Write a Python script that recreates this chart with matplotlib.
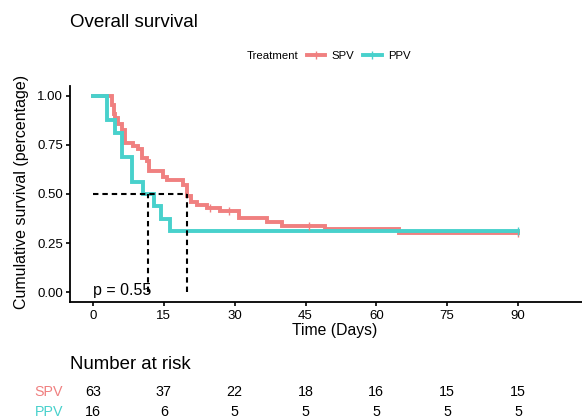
import matplotlib
matplotlib.use("Agg")
import matplotlib.pyplot as plt
import matplotlib.transforms as mtransforms
from matplotlib.lines import Line2D
import numpy as np

plt.rcParams['font.family'] = ['Liberation Sans', 'DejaVu Sans']

# ---- data ----
groups = ["SPV", "PPV"]
colors = ["#F08080", "#48D1CC"]

spv_times = [0, 4.0, 4.4, 4.7, 5.4, 6.1, 6.8, 8.5, 9.6, 10.3, 11.4, 11.9, 14.9, 15.6,
             19.1, 19.9, 20.7, 22.0, 24.1, 26.9, 31.0, 36.9, 40.0, 49.2, 64.7, 90]
spv_surv = [1.0, 0.952, 0.905, 0.889, 0.857, 0.825, 0.762, 0.746, 0.730, 0.683, 0.667,
            0.619, 0.587, 0.571, 0.548, 0.492, 0.460, 0.444, 0.429, 0.412, 0.376, 0.357,
            0.337, 0.320, 0.300, 0.300]
spv_censor = [24.8, 28.9, 45.8, 90]

ppv_times = [0, 3.0, 4.7, 6.1, 8.2, 10.6, 12.9, 14.5, 16.3, 90]
ppv_surv = [1.0, 0.875, 0.8125, 0.6875, 0.5625, 0.5, 0.4375, 0.375, 0.3125, 0.3125]
ppv_censor = [90]

risk_times = [0, 15, 30, 45, 60, 75, 90]
risk_spv = [63, 37, 22, 18, 16, 15, 15]
risk_ppv = [16, 6, 5, 5, 5, 5, 5]

pval_text = "p = 0.55"

series = [(spv_times, spv_surv, spv_censor, risk_spv),
          (ppv_times, ppv_surv, ppv_censor, risk_ppv)]

W, H = 582, 418
def fx(px): return px / W
def fy(py): return 1 - py / H

fig = plt.figure(figsize=(W / 100, H / 100), dpi=100)
ax = fig.add_axes([fx(70), fy(302), fx(582) - fx(70), fy(86) - fy(302)])

def step_value(t, times, surv):
    idx = np.searchsorted(times, t, side='right') - 1
    return surv[max(idx, 0)]

def median_time(times, surv):
    times = np.asarray(times, float); surv = np.asarray(surv, float)
    for i in range(len(surv)):
        if abs(surv[i] - 0.5) < 1e-9:
            end = times[i + 1] if i + 1 < len(times) else times[i]
            return (times[i] + end) / 2
        if surv[i] < 0.5:
            return times[i]
    return None

lw = 2.8
for (t, s, c, _), col in zip(series, colors):
    ax.step(t, s, where='post', color=col, lw=lw, solid_joinstyle='miter', zorder=3)
    cy = [step_value(ct, t, s) for ct in c]
    ax.plot(c, cy, linestyle='none', marker='|', ms=6, mew=1.0, color=col, zorder=4)

# median lines
meds = [median_time(t, s) for (t, s, _, _) in series]
dash = (2.6, 1.9)
ax.plot([0, max(meds)], [0.5, 0.5], color='black', lw=1.5, dashes=dash, zorder=5)
for m in meds:
    ax.plot([m, m], [0, 0.5], color='black', lw=1.5, dashes=dash, zorder=5)

ax.text(0, -0.012, pval_text, fontsize=11.5, ha='left', va='baseline', zorder=6)

ax.set_xlim(-4.87, 103.55)
ax.set_ylim(-0.05, 1.05)
ax.set_xticks(risk_times)
ax.set_yticks([0, 0.25, 0.5, 0.75, 1.0])
ax.set_yticklabels(["0.00", "0.25", "0.50", "0.75", "1.00"])
for sp in ['top', 'right']:
    ax.spines[sp].set_visible(False)
for sp in ['left', 'bottom']:
    ax.spines[sp].set_linewidth(1.3)
    ax.spines[sp].set_color('black')
ax.tick_params(axis='both', length=3, width=1.2, color='black', labelsize=9.5, labelcolor='black')
ax.tick_params(axis='x', pad=2.6)
ax.tick_params(axis='y', pad=2)

ax.set_xlabel("Time (Days)", fontsize=11.3)
ax.xaxis.set_label_coords((334.2 - 70) / 512, (302 - 335.0) / 216)
ax.xaxis.label.set_va('baseline')
fig.text(fx(21.7), fy(192), "Cumulative survival (percentage)", rotation=90,
         fontsize=11.5, ha='center', va='center')

# title
fig.text(fx(70), fy(26.7), "Overall survival", fontsize=13.5, ha='left', va='baseline')

# legend (manual, ggplot-like top legend)
fig.text(fx(246.7), fy(59), "Treatment", fontsize=8.2, ha='left', va='baseline')
key_x = [(307, 325), (363, 382)]
lab_x = [331.7, 388.2]
for (x0, x1), lx, g, col in zip(key_x, lab_x, groups, colors):
    fig.add_artist(Line2D([fx(x0), fx(x1)], [fy(55), fy(55)], transform=fig.transFigure,
                          color=col, lw=lw))
    fig.add_artist(Line2D([fx((x0 + x1) / 2)], [fy(55)], transform=fig.transFigure,
                          color=col, marker='|', ms=6, mew=1.0, linestyle='none'))
    fig.text(fx(lx), fy(59), g, fontsize=8.2, ha='left', va='baseline')

# risk table
fig.text(fx(70), fy(369.3), "Number at risk", fontsize=13.4, ha='left', va='baseline')
trans = mtransforms.blended_transform_factory(ax.transData, fig.transFigure)
row_base = [395.7, 415.7]
for (_, _, _, risk), g, col, yb in zip(series, groups, colors, row_base):
    fig.text(fx(63.3), fy(yb), g, fontsize=10.3, color=col, ha='right', va='baseline')
    for t, n in zip(risk_times, risk):
        fig.text(t, fy(yb), str(n), transform=trans, fontsize=10.3, ha='center', va='baseline')

fig.savefig("out.png", dpi=100)
